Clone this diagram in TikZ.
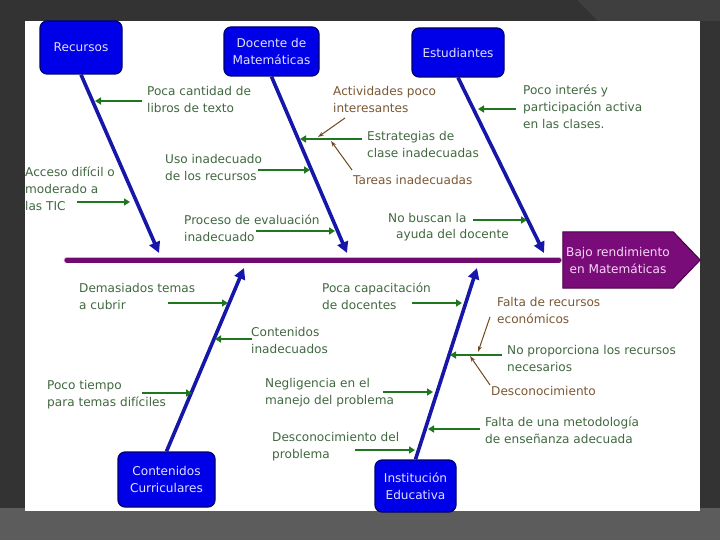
\documentclass[tikz,border=0pt]{standalone}
\usepackage{fontspec}
\setmainfont{DejaVu Sans}
\definecolor{SlideGray}{RGB}{51, 51, 51}
\definecolor{SlideLight}{RGB}{63, 63, 63}
\definecolor{BandGray}{RGB}{92, 92, 92}
\definecolor{BoxBlue}{RGB}{0, 0, 232}
\definecolor{BoxEdge}{RGB}{0, 0, 110}
\definecolor{BoxText}{RGB}{225, 225, 255}
\definecolor{BoneBlue}{RGB}{22, 22, 168}
\definecolor{Spine}{RGB}{112, 10, 112}
\definecolor{SpineEdge}{RGB}{225, 160, 225}
\definecolor{HeadFill}{RGB}{122, 12, 122}
\definecolor{HeadEdge}{RGB}{70, 0, 70}
\definecolor{HeadText}{RGB}{245, 215, 245}
\definecolor{Leaf}{RGB}{30, 118, 30}
\definecolor{LeafText}{RGB}{64, 104, 64}
\definecolor{Bark}{RGB}{112, 72, 32}
\definecolor{BarkText}{RGB}{122, 88, 52}
\usetikzlibrary{arrows.meta, backgrounds}

\begin{document}
\begin{tikzpicture}[x=1pt, y=-1pt, font=\fontsize{12.1}{17}\selectfont,
  cat/.style={draw=BoxEdge, line width=1.2pt, fill=BoxBlue, rounded corners=7pt, text=BoxText, align=center, inner sep=2pt},
  hd/.style={text=HeadText, align=center, inner sep=0pt}, note/.style={text=LeafText, align=left, anchor=base west, inner sep=0pt}, subnote/.style={note, text=BarkText},
  bone/.style={BoneBlue, line width=3.6pt, -{Triangle[length=11pt, width=11pt]}}, cause/.style={Leaf, line width=2.4pt, -{Triangle[length=6pt, width=7pt]}},
  sub/.style={Bark, line width=1pt, -{Stealth[length=6pt, width=4pt]}}, spine/.style={draw=SpineEdge, double=Spine, double distance=5pt, line width=0.8pt, line cap=round}]
\useasboundingbox (0,0) rectangle (720,540);
\begin{scope}[on background layer]
\fill[SlideGray] (0,0) rectangle (720,540);
\fill[SlideLight] (577,0) -- (720,0) -- (720,21) -- (598,21) -- cycle;
\fill[BandGray] (0,508) rectangle (720,540);
\fill[white] (25,21) rectangle (700,511);
\end{scope}
% categories and effect
\node[cat, minimum width=82pt, minimum height=53pt] (rec) at (81,47.5) {Recursos};
\node[cat, minimum width=95pt, minimum height=49pt] (doc) at (271.5,51.5) {Docente de\\Matemáticas};
\node[cat, minimum width=92pt, minimum height=49pt] (est) at (458,52.5) {Estudiantes};
\node[cat, minimum width=97pt, minimum height=55pt] (cur) at (166.5,479.5) {Contenidos\\Curriculares};
\node[cat, minimum width=81pt, minimum height=52pt] (ins) at (415.5,486) {Institución\\Educativa};
\node[hd, minimum width=110pt, minimum height=56pt] (bajo) at (618,260) {Bajo rendimiento\\en Matemáticas};
\begin{scope}[on background layer]
\draw[HeadEdge, fill=HeadFill, line width=1pt] (bajo.north west) -- (bajo.north east) -- ([xshift=27pt]bajo.east) -- (bajo.south east) -- (bajo.south west) -- cycle;
\end{scope}
\coordinate (spine-l) at (67,260);
\coordinate (rec-tip) at (159,253); \coordinate (doc-tip) at (347,253); \coordinate (est-tip) at (544,253);
\coordinate (cur-tip) at (244,268); \coordinate (ins-tip) at (477,268);
\draw[spine] (spine-l) -- ([xshift=-4pt]bajo.west);
\draw[bone] (rec.south) -- (rec-tip); \draw[bone] (doc.south) -- (doc-tip); \draw[bone] (est.south) -- (est-tip);
\draw[bone] (cur.north) -- (cur-tip); \draw[bone] (ins.north) -- (ins-tip);
% causes, upper half (placed at the baseline of the last line)
\node[note] (n1) at (147,113) {Poca cantidad de\\libros de texto};
\node[note] (n2) at (25,211) {Acceso difícil o\\moderado a\\las TIC};
\node[note] (n3) at (165,181) {Uso inadecuado\\de los recursos};
\node[note] (n4) at (184,241) {Proceso de evaluación\\inadecuado};
\node[note] (n5) at (367,158) {Estrategias de\\clase inadecuadas};
\node[subnote] (s1) at (333,113) {Actividades poco\\interesantes};
\node[subnote] (s2) at (353,185) {Tareas inadecuadas};
\node[note] (n6) at (523,129) {Poco interés y\\participación activa\\en las clases.};
\node[note] (n7) at (388,239) {No buscan la\\\hspace*{8pt}ayuda del docente};
% causes, lower half
\node[note] (n8) at (79,309) {Demasiados temas\\a cubrir};
\node[note] (n9) at (251,353) {Contenidos\\inadecuados};
\node[note] (n10) at (47,406) {Poco tiempo\\para temas difíciles};
\node[note] (n11) at (322,309) {Poca capacitación\\de docentes};
\node[note] (n12) at (265,404) {Negligencia en el\\manejo del problema};
\node[note] (n13) at (272,458) {Desconocimiento del\\problema};
\node[subnote] (s3) at (497,323) {Falta de recursos\\económicos};
\node[note] (n14) at (507,371) {No proporciona los recursos\\necesarios};
\node[subnote] (s4) at (491,395) {Desconocimiento};
\node[note] (n15) at (485,443) {Falta de una metodología\\de enseñanza adecuada};
% arrow ends
\coordinate (a1) at (142,101); \coordinate (b1) at (95,101);
\coordinate (a2) at (77,202); \coordinate (b2) at (130,202);
\coordinate (a3) at (258,170); \coordinate (b3) at (310,170);
\coordinate (a4) at (256,231); \coordinate (b4) at (335,231);
\coordinate (a5) at (362,139); \coordinate (b5) at (300,139);
\coordinate (a6) at (516,109); \coordinate (b6) at (478,109);
\coordinate (a7) at (473,220); \coordinate (b7) at (527,220);
\coordinate (a8) at (168,303); \coordinate (b8) at (228,303);
\coordinate (a9) at (252,339); \coordinate (b9) at (215,339);
\coordinate (a10) at (142,393); \coordinate (b10) at (192,393);
\coordinate (a11) at (412,303); \coordinate (b11) at (462,303);
\coordinate (a12) at (383,392); \coordinate (b12) at (433,392);
\coordinate (a13) at (355,450); \coordinate (b13) at (415,450);
\coordinate (a14) at (502,355); \coordinate (b14) at (450,355);
\coordinate (a15) at (480,429); \coordinate (b15) at (428,429);
\foreach \i in {1,...,15} \draw[cause] (a\i) -- (b\i);
\coordinate (c1) at (345,118); \coordinate (d1) at (318,137);
\coordinate (c2) at (352,170); \coordinate (d2) at (331,141);
\coordinate (c3) at (490,317); \coordinate (d3) at (478,352);
\coordinate (c4) at (490,385); \coordinate (d4) at (470,356);
\foreach \i in {1,...,4} \draw[sub] (c\i) -- (d\i);
\end{tikzpicture}
\end{document}
